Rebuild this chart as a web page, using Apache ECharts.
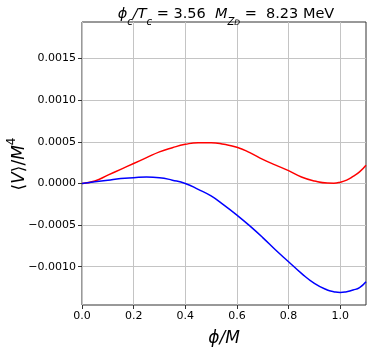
<!DOCTYPE html>
<html>
<head>
<meta charset="utf-8">
<script src="https://cdn.jsdelivr.net/npm/echarts@6/dist/echarts.min.js"></script>
<style>
	html, body { margin: 0; padding: 0; background: #fff; }
	#chart { width: 374px; height: 349px; }
</style>
</head>
<body>
<div id="chart"></div>
<script>
	// phi/M sample points
	var phi = [0, 0.05, 0.1, 0.15, 0.2, 0.25, 0.3, 0.35, 0.4, 0.45, 0.5, 0.55,
		0.6, 0.65, 0.7, 0.75, 0.8, 0.85, 0.9, 0.95, 0.975, 1.0, 1.025, 1.05, 1.075, 1.1];
	// red curve
	var redV = [0, 0.00003, 0.0001, 0.00017, 0.00024, 0.00031, 0.00038, 0.00043, 0.00047, 0.00049, 0.00049, 0.00047,
		0.000435, 0.00037, 0.00029, 0.00022, 0.000154, 0.000078, 0.00003, 0.000005, 0.000004, 0.000015, 0.00004, 0.000085, 0.00014, 0.00022];
	// blue curve
	var blueV = [0, 0.00002, 0.00004, 0.00006, 0.00007, 0.000078, 0.00007, 0.00004, 0.0, -0.00007, -0.00015, -0.00026,
		-0.00038, -0.00051, -0.00065, -0.0008, -0.00094, -0.00108, -0.0012, -0.00128, -0.0013, -0.00131, -0.0013, -0.00128, -0.00125, -0.00118];
	// tick labels
	var xTicks = [0, 0.2, 0.4, 0.6, 0.8, 1.0];
	var yTicks = [-0.001, -0.0005, 0, 0.0005, 0.001, 0.0015];

	var font = 'DejaVu Sans';
	var myChart = echarts.init(document.getElementById('chart'));

	function pairs(ys) {
		return phi.map(function (x, i) { return [x, ys[i]]; });
	}

	var option = {
		animation: false,
		textStyle: { fontFamily: font },
		title: {
			left: 221,
			textAlign: 'center',
			top: 2,
			text: '{i|ϕ}{s|c}{i|/T}{s|c}{n| = 3.56  }{i|M}{s|Z}{ss|D}{n| =  8.23 MeV}',
			textStyle: {
				fontWeight: 'normal',
				rich: {
					i: { fontFamily: font, fontStyle: 'italic', fontWeight: 'normal', fontSize: 14.5, color: '#000', lineHeight: 20, verticalAlign: 'top' },
					n: { fontFamily: font, fontWeight: 'normal', fontSize: 14.5, color: '#000', lineHeight: 20, verticalAlign: 'top' },
					s: { fontFamily: font, fontStyle: 'italic', fontWeight: 'normal', fontSize: 10, color: '#000', lineHeight: 11, verticalAlign: 'bottom' },
					ss: { fontFamily: font, fontStyle: 'italic', fontWeight: 'normal', fontSize: 7.5, color: '#000', lineHeight: 6, verticalAlign: 'bottom' }
				}
			}
		},
		// y axis title, drawn as rotated text
		graphic: [{
			type: 'text',
			x: 17,
			y: 164,
			rotation: Math.PI / 2,
			style: {
				text: '{n|⟨}{i|V}{n|⟩/}{i|M}{p|4}',
				align: 'center',
				verticalAlign: 'middle',
				rich: {
					n: { fontFamily: font, fontSize: 17, fill: '#000', lineHeight: 22, verticalAlign: 'bottom' },
					i: { fontFamily: font, fontStyle: 'italic', fontSize: 17, fill: '#000', lineHeight: 22, verticalAlign: 'bottom' },
					p: { fontFamily: font, fontSize: 12, fill: '#000', lineHeight: 22, verticalAlign: 'top' }
				}
			}
		}],
		grid: {
			left: 82,
			right: 8,
			top: 22,
			bottom: 44,
			outerBoundsMode: 'none',
			containLabel: false,
			show: true,
			borderColor: '#333',
			borderWidth: 1
		},
		xAxis: {
			type: 'value',
			min: 0,
			max: 1.1,
			name: 'ϕ/M',
			nameLocation: 'middle',
			nameGap: 25,
			nameTextStyle: { fontFamily: font, fontStyle: 'italic', fontSize: 17, color: '#000' },
			axisLine: { show: false, onZero: false },
			axisTick: { show: true, length: 4, customValues: xTicks, lineStyle: { color: '#333' } },
			axisLabel: {
				customValues: xTicks,
				margin: 6,
				fontSize: 11,
				color: '#000',
				formatter: function (v) { return v.toFixed(1); }
			},
			splitLine: { show: true, lineStyle: { color: '#c4c4c4', width: 1 } }
		},
		yAxis: {
			type: 'value',
			min: -0.00146,
			max: 0.00194,
			axisLine: { show: false, onZero: false },
			axisTick: { show: true, length: 4, customValues: yTicks, lineStyle: { color: '#333' } },
			axisLabel: {
				customValues: yTicks,
				margin: 6,
				fontSize: 11,
				color: '#000',
				formatter: function (v) {
					var s = Math.abs(v).toFixed(4);
					return v < 0 ? '\u2212' + s : s;
				}
			},
			splitLine: { show: true, lineStyle: { color: '#c4c4c4', width: 1 } }
		},
		series: [{
			type: 'line',
			data: pairs(redV),
			smooth: 0.5,
			showSymbol: false,
			lineStyle: { color: '#ff0000', width: 1.5 }
		}, {
			type: 'line',
			data: pairs(blueV),
			smooth: 0.5,
			showSymbol: false,
			lineStyle: { color: '#0000ff', width: 1.5 }
		}]
	};
	myChart.setOption(option);
</script>
</body>
</html>
